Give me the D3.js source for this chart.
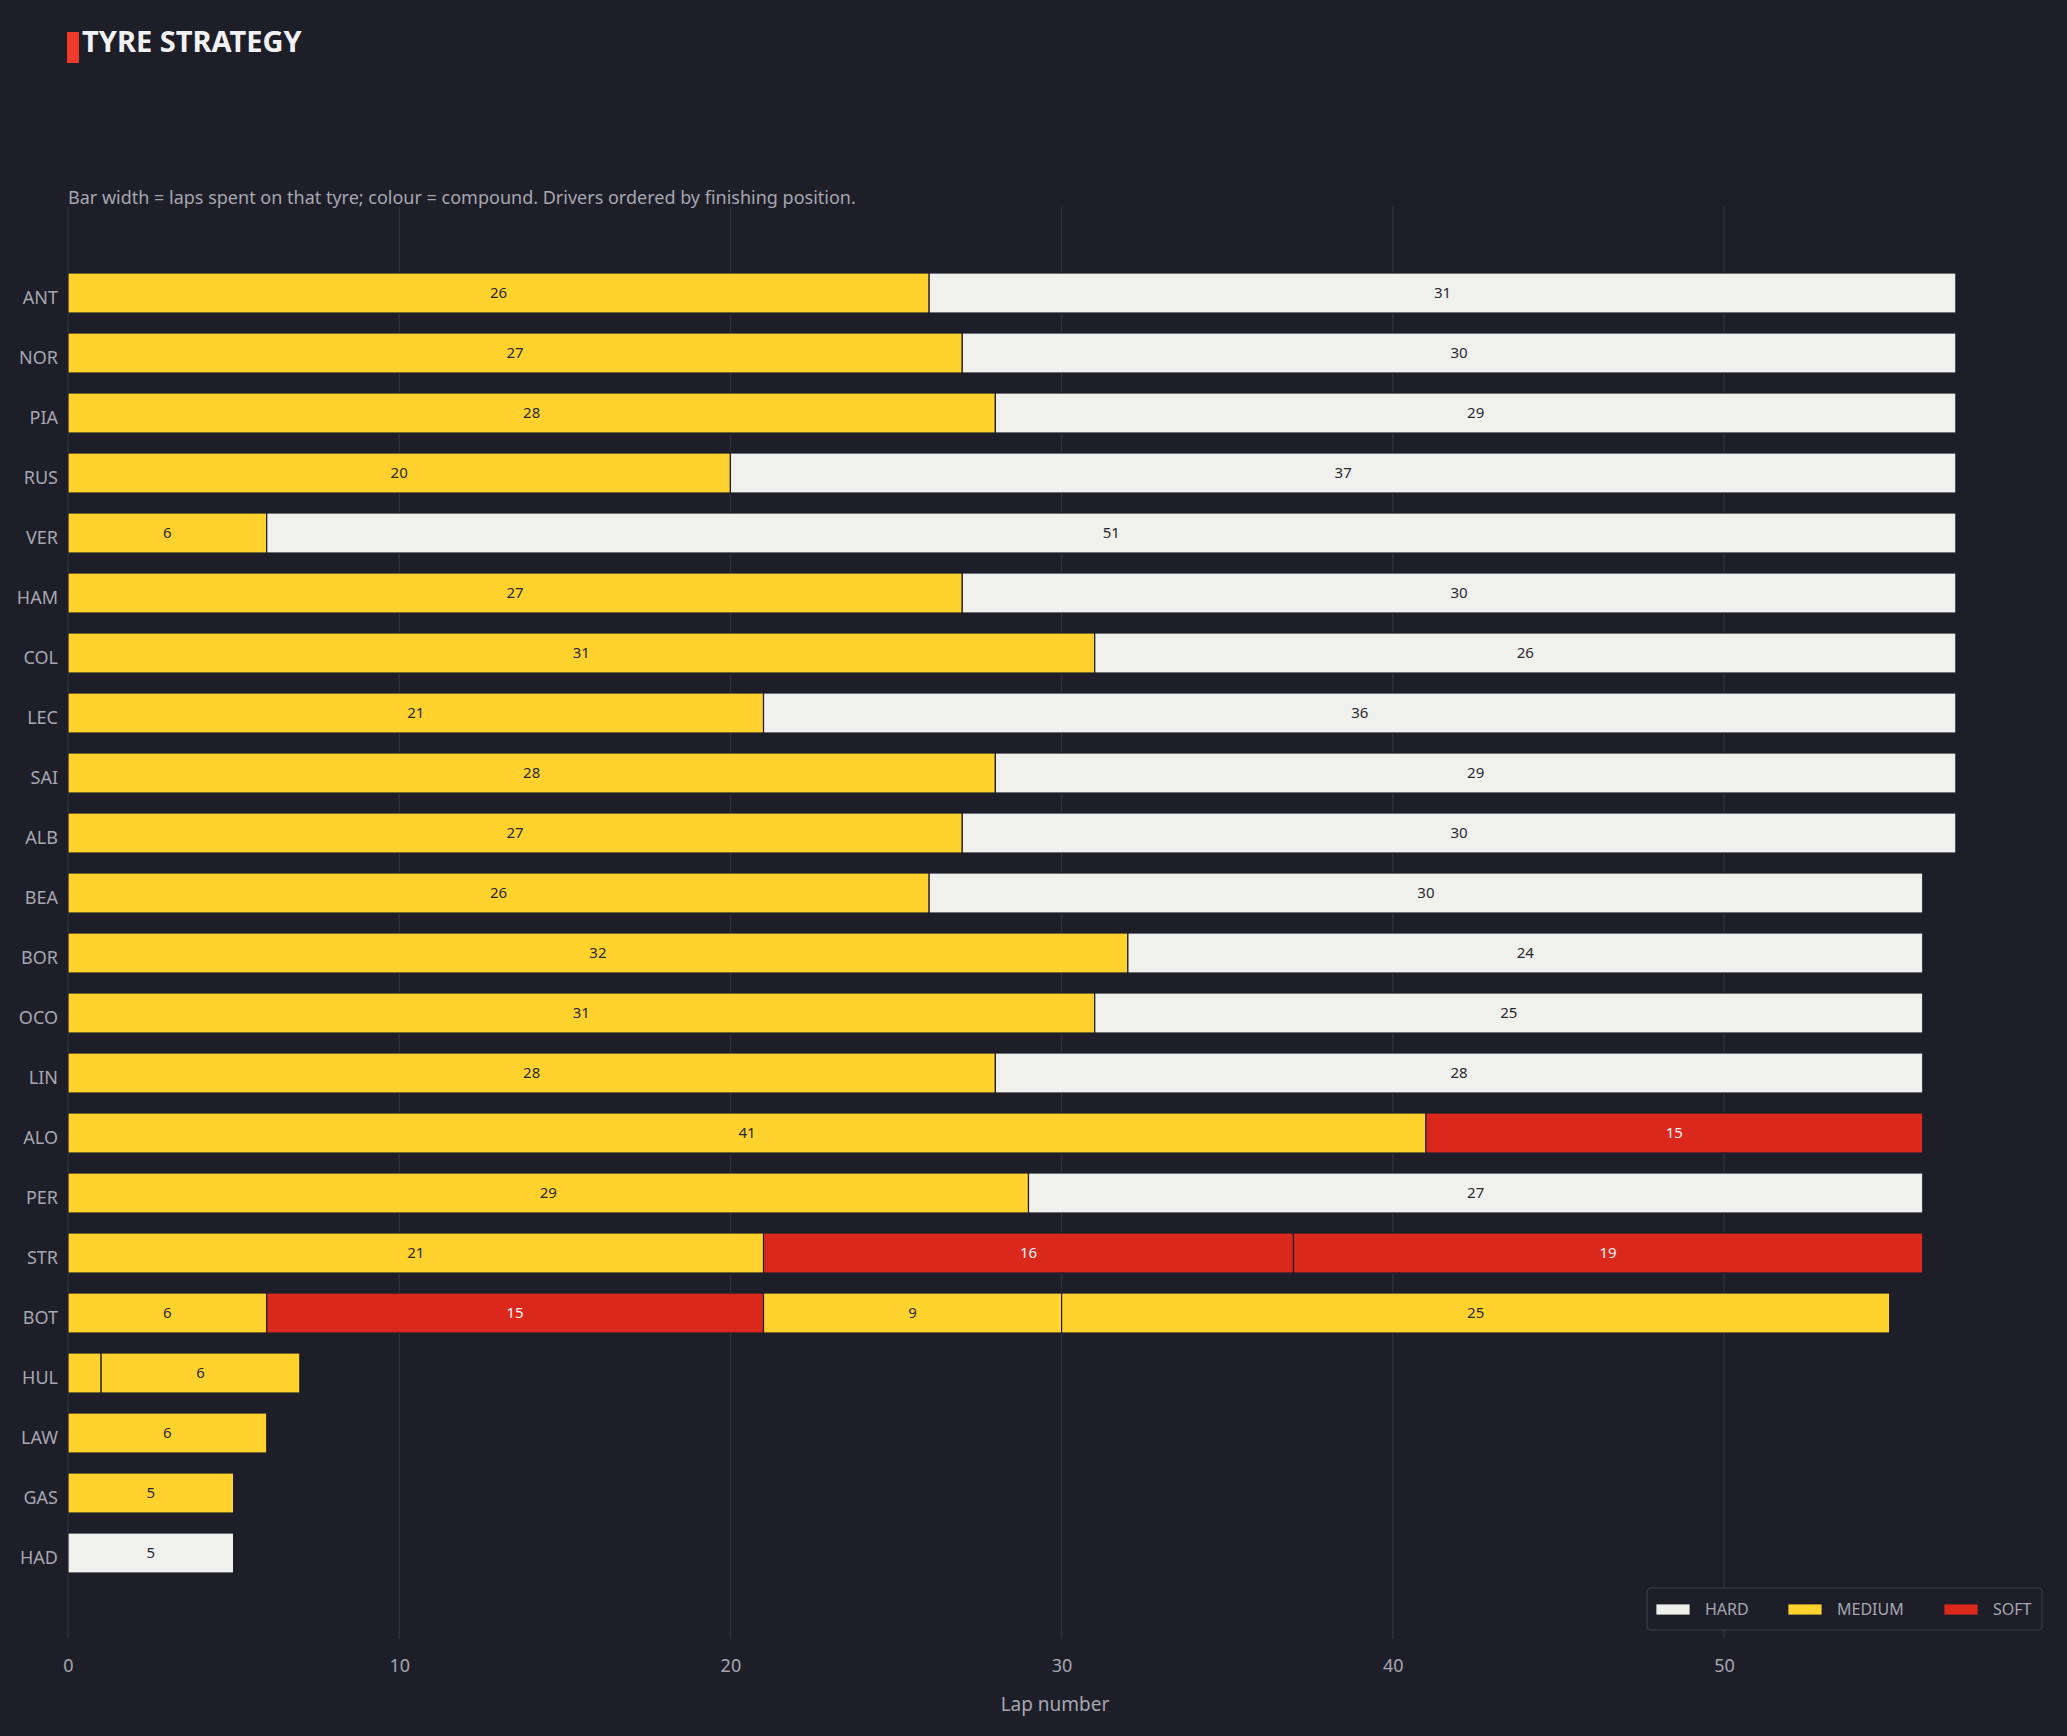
<!DOCTYPE html>
<html>
<head>
<meta charset="utf-8">
<script src="https://cdn.jsdelivr.net/npm/d3@7"></script>
<style>
  html, body { margin: 0; padding: 0; background: #1e1e28; }
  svg { display: block; font-family: "Noto Sans", "Open Sans", sans-serif; }
</style>
</head>
<body>
<div id="chart"></div>
<script>
// Datos
const drivers = ["ANT","NOR","PIA","RUS","VER","HAM","COL","LEC","SAI","ALB","BEA",
  "BOR","OCO","LIN","ALO","PER","STR","BOT","HUL","LAW","GAS","HAD"];

// compuestos y vueltas por stint, en orden
const stintCompounds = [
  ["MEDIUM","HARD"], ["MEDIUM","HARD"], ["MEDIUM","HARD"], ["MEDIUM","HARD"],
  ["MEDIUM","HARD"], ["MEDIUM","HARD"], ["MEDIUM","HARD"], ["MEDIUM","HARD"],
  ["MEDIUM","HARD"], ["MEDIUM","HARD"], ["MEDIUM","HARD"], ["MEDIUM","HARD"],
  ["MEDIUM","HARD"], ["MEDIUM","HARD"], ["MEDIUM","SOFT"], ["MEDIUM","HARD"],
  ["MEDIUM","SOFT","SOFT"], ["MEDIUM","SOFT","MEDIUM","MEDIUM"],
  ["MEDIUM","MEDIUM"], ["MEDIUM"], ["MEDIUM"], ["HARD"]
];
const stintLaps = [
  [26,31], [27,30], [28,29], [20,37], [6,51], [27,30], [31,26], [21,36],
  [28,29], [27,30], [26,30], [32,24], [31,25], [28,28], [41,15], [29,27],
  [21,16,19], [6,15,9,25], [1,6], [6], [5], [5]
];

const compounds = ["HARD","MEDIUM","SOFT"];
const compoundColors = ["#f0f0ec","#ffd22e","#da291c"];
const xTicks = [0,10,20,30,40,50];

// Constantes
const WIDTH = 2067;
const HEIGHT = 1736;
const margin = { top: 207, right: 25, bottom: 97, left: 68 };

const svg = d3.select("#chart")
  .append("svg")
  .attr("width", WIDTH)
  .attr("height", HEIGHT);

svg.append("rect")
  .attr("width", WIDTH)
  .attr("height", HEIGHT)
  .attr("fill", "#1e1e28");

// Escalas
const x = d3.scaleLinear()
  .domain([0, 59.6])
  .range([margin.left, WIDTH - margin.right]);

const y = d3.scaleBand()
  .domain(drivers)
  .range([margin.top, HEIGHT - margin.bottom])
  .paddingInner(1 / 3)
  .paddingOuter(1.1);

const color = d3.scaleOrdinal().domain(compounds).range(compoundColors);

// Título
svg.append("rect")
  .attr("x", 67).attr("y", 32)
  .attr("width", 12).attr("height", 31)
  .attr("fill", "#f03a2e");

svg.append("text")
  .attr("x", 82).attr("y", 52)
  .attr("fill", "#f2f2f5")
  .style("font-size", "29px")
  .style("font-weight", "bold")
  .text("TYRE STRATEGY");

svg.append("text")
  .attr("x", 68).attr("y", 204)
  .attr("fill", "#a6a7b2")
  .style("font-size", "18px")
  .text("Bar width = laps spent on that tyre; colour = compound. Drivers ordered by finishing position.");

// Grilla
const grid = svg.append("g");
grid.selectAll("line")
  .data(xTicks)
  .join("line")
  .attr("x1", d => x(d)).attr("x2", d => x(d))
  .attr("y1", margin.top).attr("y2", HEIGHT - margin.bottom)
  .attr("stroke", "#2e2f3a")
  .attr("stroke-width", 1.5);

// Eje x
const xAxis = svg.append("g")
  .attr("transform", `translate(0, ${HEIGHT - margin.bottom})`)
  .call(d3.axisBottom(x).tickValues(xTicks).tickSize(0).tickPadding(20));
xAxis.select(".domain").remove();
xAxis.selectAll("text")
  .attr("fill", "#a6a7b2")
  .style("font-size", "18px")
  .style("font-family", "'Noto Sans', sans-serif");

svg.append("text")
  .attr("x", (x.range()[0] + x.range()[1]) / 2)
  .attr("y", 1711)
  .attr("text-anchor", "middle")
  .attr("fill", "#a6a7b2")
  .style("font-size", "19px")
  .text("Lap number");

// Eje y
const yAxis = svg.append("g")
  .attr("transform", `translate(${margin.left}, 0)`)
  .call(d3.axisLeft(y).tickSize(0).tickPadding(10));
yAxis.select(".domain").remove();
yAxis.selectAll("text")
  .attr("dy", "0.6em")
  .attr("fill", "#a6a7b2")
  .style("font-size", "18px")
  .style("font-family", "'Noto Sans', sans-serif");

// Stints
const stints = drivers.flatMap((drv, i) => {
  let start = 0;
  return stintLaps[i].map((laps, j) => {
    const s = { driver: drv, compound: stintCompounds[i][j], start, laps };
    start += laps;
    return s;
  });
});

const bars = svg.append("g");
bars.selectAll("rect")
  .data(stints)
  .join("rect")
  .attr("x", d => x(d.start))
  .attr("y", d => y(d.driver))
  .attr("width", d => x(d.start + d.laps) - x(d.start))
  .attr("height", y.bandwidth())
  .attr("fill", d => color(d.compound))
  .attr("stroke", "#1e1e28")
  .attr("stroke-width", 1.2);

bars.selectAll("text")
  .data(stints.filter(d => d.laps >= 2))
  .join("text")
  .attr("x", d => x(d.start + d.laps / 2))
  .attr("y", d => y(d.driver) + y.bandwidth() / 2)
  .attr("dy", "0.36em")
  .attr("text-anchor", "middle")
  .attr("fill", d => d.compound === "SOFT" ? "#f6f6f6" : "#2a2a30")
  .style("font-size", "15px")
  .text(d => d.laps);

// Leyenda
const legend = svg.append("g");
legend.append("rect")
  .attr("x", 1647).attr("y", 1588)
  .attr("width", 395).attr("height", 42)
  .attr("rx", 4)
  .attr("fill", "#1e1e28")
  .attr("stroke", "#34353f")
  .attr("stroke-width", 1.5);

const legendX = [1656, 1788, 1944];
const items = legend.selectAll("g.item")
  .data(compounds)
  .join("g")
  .attr("class", "item")
  .attr("transform", (d, i) => `translate(${legendX[i]}, 1609)`);

items.append("rect")
  .attr("x", 0).attr("y", -5)
  .attr("width", 34).attr("height", 11)
  .attr("fill", d => color(d))
  .attr("stroke", "#1e1e28")
  .attr("stroke-width", 0.8);

items.append("text")
  .attr("x", 49).attr("y", 0)
  .attr("dy", "0.36em")
  .attr("fill", "#a6a7b2")
  .style("font-size", "16px")
  .text(d => d);
</script>
</body>
</html>
